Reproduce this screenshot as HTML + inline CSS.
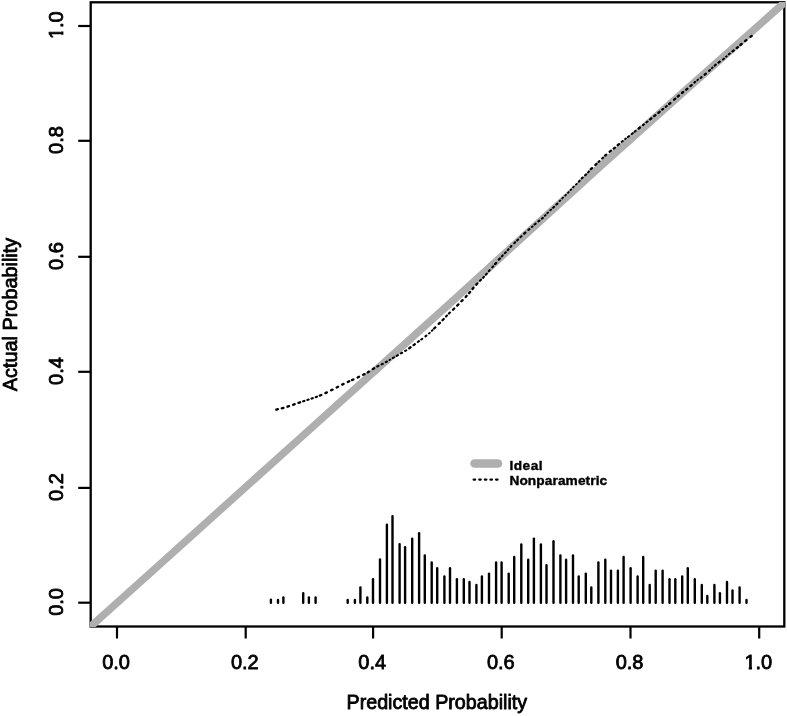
<!DOCTYPE html>
<html lang="en">
<head>
<meta charset="utf-8">
<title>Calibration plot</title>
<style>
html,body{margin:0;padding:0;background:#fff;}
body{width:787px;height:716px;overflow:hidden;}
svg{display:block;}
text{font-family:"Liberation Sans",Arial,Helvetica,sans-serif;fill:#000;stroke:#000;stroke-width:0.8px;stroke-linejoin:round;}
.ax{font-size:20px;}
.lg{font-size:13.7px;font-weight:bold;stroke-width:0.4px;}
.ti{font-size:19.7px;}
</style>
</head>
<body>
<svg width="787" height="716" viewBox="0 0 787 716">
<rect x="0" y="0" width="787" height="716" fill="#fff"/>
<defs><clipPath id="plot"><rect x="90.0" y="2.0" width="695.2" height="625.0"/></clipPath></defs>
<rect x="90.7" y="2.3" width="693.6" height="624.2" fill="none" stroke="#000" stroke-width="2.3"/>
<line x1="117.0" y1="626.5" x2="117.0" y2="638.5" stroke="#000" stroke-width="2.2"/>
<line x1="90.7" y1="602.7" x2="78.2" y2="602.7" stroke="#000" stroke-width="2.2"/>
<line x1="245.7" y1="626.5" x2="245.7" y2="638.5" stroke="#000" stroke-width="2.2"/>
<line x1="90.7" y1="487.9" x2="78.2" y2="487.9" stroke="#000" stroke-width="2.2"/>
<line x1="373.1" y1="626.5" x2="373.1" y2="638.5" stroke="#000" stroke-width="2.2"/>
<line x1="90.7" y1="371.8" x2="78.2" y2="371.8" stroke="#000" stroke-width="2.2"/>
<line x1="501.7" y1="626.5" x2="501.7" y2="638.5" stroke="#000" stroke-width="2.2"/>
<line x1="90.7" y1="256.8" x2="78.2" y2="256.8" stroke="#000" stroke-width="2.2"/>
<line x1="630.5" y1="626.5" x2="630.5" y2="638.5" stroke="#000" stroke-width="2.2"/>
<line x1="90.7" y1="140.8" x2="78.2" y2="140.8" stroke="#000" stroke-width="2.2"/>
<line x1="759.2" y1="626.5" x2="759.2" y2="638.5" stroke="#000" stroke-width="2.2"/>
<line x1="90.7" y1="26.0" x2="78.2" y2="26.0" stroke="#000" stroke-width="2.2"/>
<g transform="translate(116.1,669.4)"><text class="ax" text-anchor="middle">0.0</text></g>
<g transform="translate(63.4,601.9) rotate(-90)"><text class="ax" text-anchor="middle">0.0</text></g>
<g transform="translate(244.8,669.4)"><text class="ax" text-anchor="middle">0.2</text></g>
<g transform="translate(63.4,487.1) rotate(-90)"><text class="ax" text-anchor="middle">0.2</text></g>
<g transform="translate(372.2,669.4)"><text class="ax" text-anchor="middle">0.4</text></g>
<g transform="translate(63.4,371.0) rotate(-90)"><text class="ax" text-anchor="middle">0.4</text></g>
<g transform="translate(500.8,669.4)"><text class="ax" text-anchor="middle">0.6</text></g>
<g transform="translate(63.4,256.0) rotate(-90)"><text class="ax" text-anchor="middle">0.6</text></g>
<g transform="translate(629.6,669.4)"><text class="ax" text-anchor="middle">0.8</text></g>
<g transform="translate(63.4,140.0) rotate(-90)"><text class="ax" text-anchor="middle">0.8</text></g>
<g transform="translate(758.3,669.4)"><text class="ax" text-anchor="middle">1.0</text><rect x="-14.6" y="-3.4" width="5.05" height="4.4" fill="#fff"/><rect x="-6.25" y="-3.4" width="3.7" height="4.4" fill="#fff"/></g>
<g transform="translate(63.4,25.2) rotate(-90)"><text class="ax" text-anchor="middle">1.0</text><rect x="-14.6" y="-3.4" width="5.05" height="4.4" fill="#fff"/><rect x="-6.25" y="-3.4" width="3.7" height="4.4" fill="#fff"/></g>
<text class="ti" x="436.8" y="709.1" text-anchor="middle">Predicted Probability</text>
<text class="ti" style="font-size:19.85px" transform="translate(16.5,314.5) rotate(-90)" text-anchor="middle">Actual Probability</text>
<g clip-path="url(#plot)"><polyline points="60.0,654.09 165.0,559.70 300.0,438.21 450.0,303.36 530.0,230.52 600.0,166.66 680.0,95.12 764.0,20.69 810.0,-20.22" fill="none" stroke="#afafaf" stroke-width="7.5" stroke-linejoin="round"/></g>
<path d="M389.4 360.0L390.2 359.5M428.9 333.5L429.7 332.9M431.8 330.8L432.6 330.1M531.8 227.0L532.6 226.4M544.8 215.8L545.6 215.1M547.3 213.2L548.1 212.5M550.3 210.3L551.1 209.6M559.6 201.2L560.3 200.5M562.3 198.4L563.0 197.7M565.2 195.6L565.9 194.9M568.0 192.8L568.7 192.1M570.6 190.1L571.2 189.4M573.1 187.4L573.7 186.7M575.9 184.6L576.7 183.9M625.1 139.1L625.9 138.5M697.3 80.2L698.1 79.6M711.9 68.2L712.6 67.5M726.0 56.8L726.8 56.2" fill="none" stroke="#000" stroke-width="1.85" stroke-linecap="round"/>
<path d="M303.2 401.3L304.4 400.9M307.4 399.9L308.6 399.6M311.6 398.6L312.8 398.2M315.7 397.2L317.0 396.7M377.3 366.5L378.5 365.9M381.6 364.4L382.8 363.8M385.8 362.1L387.0 361.5M392.9 358.0L394.1 357.4M396.7 355.9L397.9 355.2M400.9 353.4L402.1 352.8M405.2 350.9L406.2 350.3M417.8 342.0L418.9 341.2M421.2 339.5L422.2 338.8M425.4 336.4L426.4 335.6M446.0 316.6L447.0 315.6M448.9 313.6L449.9 312.6M480.0 280.8L481.0 279.8M483.1 277.8L483.9 276.8M486.0 274.6L486.8 273.6M488.9 271.2L489.7 270.2M492.3 267.3L493.1 266.3M501.9 256.3L502.7 255.3M504.8 253.2L505.8 252.3M507.8 250.2L508.6 249.2M510.5 247.0L511.4 246.1M514.3 243.2L515.2 242.3M517.2 240.5L518.1 239.6M520.4 237.2L521.4 236.3M528.4 230.0L529.4 229.1M534.6 224.5L535.6 223.7M538.4 221.4L539.4 220.6M541.8 218.7L542.8 217.9M553.1 207.7L554.1 206.8M556.4 204.5L557.4 203.6M578.9 181.6L579.7 180.6M581.7 178.4L582.7 177.5M585.1 175.3L586.1 174.4M588.1 172.4L588.9 171.4M598.5 162.0L599.5 161.1M602.2 158.5L603.2 157.6M621.7 141.8L622.7 141.0M627.9 137.0L628.9 136.2M631.7 134.0L632.7 133.2M634.6 131.7L635.6 130.9M643.0 125.1L644.0 124.3M646.4 122.3L647.4 121.5M662.1 109.7L663.2 108.9M665.7 106.8L666.8 106.0M694.3 82.6L695.3 81.8M700.6 77.8L701.6 77.1M709.0 70.9L710.0 70.0M714.7 65.6L715.7 64.7M722.9 59.5L723.9 58.7M728.8 54.3L729.8 53.5" fill="none" stroke="#000" stroke-width="2.10" stroke-linecap="round"/>
<path d="M276.3 409.6L277.9 409.2M281.8 408.3L283.4 407.9M287.5 406.7L289.1 406.2M293.1 404.8L294.7 404.2M298.5 402.8L300.1 402.3M319.8 395.6L321.3 395.0M325.4 393.1L326.9 392.4M331.1 390.3L332.5 389.6M336.7 387.5L338.1 386.7M342.2 384.6L343.6 383.9M347.8 382.0L349.2 381.3M352.0 380.1L353.4 379.5M357.6 377.5L359.0 376.8M363.1 374.8L364.6 374.1M367.6 372.4L369.0 371.6M372.9 369.1L374.2 368.3M409.2 348.3L410.6 347.3M413.5 345.1L414.8 344.2M434.1 328.5L435.3 327.4M438.7 323.9L439.9 322.8M442.5 320.2L443.7 319.0M453.0 309.7L454.2 308.5M457.2 305.6L458.4 304.4M461.4 301.3L462.6 300.1M465.7 297.0L466.7 295.8M469.0 293.2L470.1 291.9M472.5 289.0L473.5 287.7M476.3 284.7L477.3 283.5M495.1 264.1L496.1 262.9M498.9 259.6L499.9 258.4M524.1 233.7L525.3 232.6M590.8 169.2L592.0 168.1M595.4 164.9L596.6 163.8M605.1 155.7L606.3 154.7M609.7 151.7L611.0 150.7M613.7 148.6L615.0 147.6M617.7 145.2L619.0 144.1M638.7 128.5L639.9 127.5M650.1 119.3L651.3 118.3M654.2 116.1L655.4 115.2M658.4 112.9L659.6 111.8M669.2 104.0L670.4 103.0M674.1 99.7L675.3 98.7M677.8 96.5L679.0 95.5M682.0 93.0L683.2 92.0M686.2 89.7L687.4 88.7M690.4 86.1L691.6 85.1M704.7 74.7L705.9 73.7M718.5 62.6L719.8 61.6M732.5 51.4L733.7 50.5M736.7 48.1L737.9 47.1M740.4 45.0L741.6 44.0M745.1 41.1L746.3 40.1M750.5 36.9L751.7 35.9" fill="none" stroke="#000" stroke-width="2.30" stroke-linecap="round"/>
<line x1="270.9" y1="602.8" x2="270.9" y2="599.7" stroke="#000" stroke-width="2.4" stroke-linecap="round"/>
<line x1="278.0" y1="602.8" x2="278.0" y2="600.0" stroke="#000" stroke-width="2.4" stroke-linecap="round"/>
<line x1="283.4" y1="602.8" x2="283.4" y2="597.4" stroke="#000" stroke-width="2.4" stroke-linecap="round"/>
<line x1="303.2" y1="602.8" x2="303.2" y2="593.3" stroke="#000" stroke-width="2.4" stroke-linecap="round"/>
<line x1="308.9" y1="602.8" x2="308.9" y2="597.4" stroke="#000" stroke-width="2.4" stroke-linecap="round"/>
<line x1="315.6" y1="602.8" x2="315.6" y2="597.4" stroke="#000" stroke-width="2.4" stroke-linecap="round"/>
<line x1="347.7" y1="602.8" x2="347.7" y2="600.0" stroke="#000" stroke-width="2.4" stroke-linecap="round"/>
<line x1="354.9" y1="602.8" x2="354.9" y2="600.0" stroke="#000" stroke-width="2.4" stroke-linecap="round"/>
<line x1="360.4" y1="602.8" x2="360.4" y2="587.4" stroke="#000" stroke-width="2.4" stroke-linecap="round"/>
<line x1="367.3" y1="602.8" x2="367.3" y2="597.4" stroke="#000" stroke-width="2.4" stroke-linecap="round"/>
<line x1="373.0" y1="602.8" x2="373.0" y2="579.3" stroke="#000" stroke-width="2.4" stroke-linecap="round"/>
<line x1="380.0" y1="602.8" x2="380.0" y2="559.5" stroke="#000" stroke-width="2.4" stroke-linecap="round"/>
<line x1="386.9" y1="602.8" x2="386.9" y2="524.7" stroke="#000" stroke-width="2.4" stroke-linecap="round"/>
<line x1="392.5" y1="602.8" x2="392.5" y2="516.1" stroke="#000" stroke-width="2.4" stroke-linecap="round"/>
<line x1="399.6" y1="602.8" x2="399.6" y2="544.1" stroke="#000" stroke-width="2.4" stroke-linecap="round"/>
<line x1="405.1" y1="602.8" x2="405.1" y2="547.2" stroke="#000" stroke-width="2.4" stroke-linecap="round"/>
<line x1="412.2" y1="602.8" x2="412.2" y2="538.6" stroke="#000" stroke-width="2.4" stroke-linecap="round"/>
<line x1="419.1" y1="602.8" x2="419.1" y2="533.2" stroke="#000" stroke-width="2.4" stroke-linecap="round"/>
<line x1="424.8" y1="602.8" x2="424.8" y2="555.5" stroke="#000" stroke-width="2.4" stroke-linecap="round"/>
<line x1="431.7" y1="602.8" x2="431.7" y2="562.5" stroke="#000" stroke-width="2.4" stroke-linecap="round"/>
<line x1="437.2" y1="602.8" x2="437.2" y2="568.2" stroke="#000" stroke-width="2.4" stroke-linecap="round"/>
<line x1="444.4" y1="602.8" x2="444.4" y2="576.4" stroke="#000" stroke-width="2.4" stroke-linecap="round"/>
<line x1="450.0" y1="602.8" x2="450.0" y2="568.2" stroke="#000" stroke-width="2.4" stroke-linecap="round"/>
<line x1="456.9" y1="602.8" x2="456.9" y2="579.3" stroke="#000" stroke-width="2.4" stroke-linecap="round"/>
<line x1="463.8" y1="602.8" x2="463.8" y2="579.3" stroke="#000" stroke-width="2.4" stroke-linecap="round"/>
<line x1="469.5" y1="602.8" x2="469.5" y2="582.0" stroke="#000" stroke-width="2.4" stroke-linecap="round"/>
<line x1="476.4" y1="602.8" x2="476.4" y2="585.0" stroke="#000" stroke-width="2.4" stroke-linecap="round"/>
<line x1="481.9" y1="602.8" x2="481.9" y2="576.4" stroke="#000" stroke-width="2.4" stroke-linecap="round"/>
<line x1="489.0" y1="602.8" x2="489.0" y2="573.6" stroke="#000" stroke-width="2.4" stroke-linecap="round"/>
<line x1="496.1" y1="602.8" x2="496.1" y2="562.5" stroke="#000" stroke-width="2.4" stroke-linecap="round"/>
<line x1="501.6" y1="602.8" x2="501.6" y2="562.5" stroke="#000" stroke-width="2.4" stroke-linecap="round"/>
<line x1="508.7" y1="602.8" x2="508.7" y2="573.6" stroke="#000" stroke-width="2.4" stroke-linecap="round"/>
<line x1="514.2" y1="602.8" x2="514.2" y2="557.0" stroke="#000" stroke-width="2.4" stroke-linecap="round"/>
<line x1="521.3" y1="602.8" x2="521.3" y2="544.4" stroke="#000" stroke-width="2.4" stroke-linecap="round"/>
<line x1="528.2" y1="602.8" x2="528.2" y2="559.8" stroke="#000" stroke-width="2.4" stroke-linecap="round"/>
<line x1="533.9" y1="602.8" x2="533.9" y2="538.6" stroke="#000" stroke-width="2.4" stroke-linecap="round"/>
<line x1="540.9" y1="602.8" x2="540.9" y2="544.4" stroke="#000" stroke-width="2.4" stroke-linecap="round"/>
<line x1="546.5" y1="602.8" x2="546.5" y2="565.1" stroke="#000" stroke-width="2.4" stroke-linecap="round"/>
<line x1="553.5" y1="602.8" x2="553.5" y2="541.3" stroke="#000" stroke-width="2.4" stroke-linecap="round"/>
<line x1="560.4" y1="602.8" x2="560.4" y2="555.5" stroke="#000" stroke-width="2.4" stroke-linecap="round"/>
<line x1="566.1" y1="602.8" x2="566.1" y2="559.8" stroke="#000" stroke-width="2.4" stroke-linecap="round"/>
<line x1="573.0" y1="602.8" x2="573.0" y2="555.5" stroke="#000" stroke-width="2.4" stroke-linecap="round"/>
<line x1="578.7" y1="602.8" x2="578.7" y2="576.4" stroke="#000" stroke-width="2.4" stroke-linecap="round"/>
<line x1="585.8" y1="602.8" x2="585.8" y2="573.6" stroke="#000" stroke-width="2.4" stroke-linecap="round"/>
<line x1="591.3" y1="602.8" x2="591.3" y2="587.4" stroke="#000" stroke-width="2.4" stroke-linecap="round"/>
<line x1="598.4" y1="602.8" x2="598.4" y2="562.5" stroke="#000" stroke-width="2.4" stroke-linecap="round"/>
<line x1="605.3" y1="602.8" x2="605.3" y2="559.8" stroke="#000" stroke-width="2.4" stroke-linecap="round"/>
<line x1="611.0" y1="602.8" x2="611.0" y2="570.8" stroke="#000" stroke-width="2.4" stroke-linecap="round"/>
<line x1="617.9" y1="602.8" x2="617.9" y2="570.8" stroke="#000" stroke-width="2.4" stroke-linecap="round"/>
<line x1="623.6" y1="602.8" x2="623.6" y2="557.0" stroke="#000" stroke-width="2.4" stroke-linecap="round"/>
<line x1="630.6" y1="602.8" x2="630.6" y2="568.2" stroke="#000" stroke-width="2.4" stroke-linecap="round"/>
<line x1="637.6" y1="602.8" x2="637.6" y2="576.4" stroke="#000" stroke-width="2.4" stroke-linecap="round"/>
<line x1="643.2" y1="602.8" x2="643.2" y2="557.0" stroke="#000" stroke-width="2.4" stroke-linecap="round"/>
<line x1="649.7" y1="602.8" x2="649.7" y2="585.0" stroke="#000" stroke-width="2.4" stroke-linecap="round"/>
<line x1="655.7" y1="602.8" x2="655.7" y2="570.8" stroke="#000" stroke-width="2.4" stroke-linecap="round"/>
<line x1="662.6" y1="602.8" x2="662.6" y2="570.8" stroke="#000" stroke-width="2.4" stroke-linecap="round"/>
<line x1="669.5" y1="602.8" x2="669.5" y2="579.3" stroke="#000" stroke-width="2.4" stroke-linecap="round"/>
<line x1="675.3" y1="602.8" x2="675.3" y2="579.3" stroke="#000" stroke-width="2.4" stroke-linecap="round"/>
<line x1="682.2" y1="602.8" x2="682.2" y2="576.4" stroke="#000" stroke-width="2.4" stroke-linecap="round"/>
<line x1="687.8" y1="602.8" x2="687.8" y2="568.2" stroke="#000" stroke-width="2.4" stroke-linecap="round"/>
<line x1="694.8" y1="602.8" x2="694.8" y2="579.3" stroke="#000" stroke-width="2.4" stroke-linecap="round"/>
<line x1="701.8" y1="602.8" x2="701.8" y2="585.0" stroke="#000" stroke-width="2.4" stroke-linecap="round"/>
<line x1="707.3" y1="602.8" x2="707.3" y2="595.9" stroke="#000" stroke-width="2.4" stroke-linecap="round"/>
<line x1="714.4" y1="602.8" x2="714.4" y2="585.0" stroke="#000" stroke-width="2.4" stroke-linecap="round"/>
<line x1="719.9" y1="602.8" x2="719.9" y2="593.3" stroke="#000" stroke-width="2.4" stroke-linecap="round"/>
<line x1="727.0" y1="602.8" x2="727.0" y2="582.0" stroke="#000" stroke-width="2.4" stroke-linecap="round"/>
<line x1="732.5" y1="602.8" x2="732.5" y2="590.5" stroke="#000" stroke-width="2.4" stroke-linecap="round"/>
<line x1="739.6" y1="602.8" x2="739.6" y2="587.4" stroke="#000" stroke-width="2.4" stroke-linecap="round"/>
<line x1="746.5" y1="602.8" x2="746.5" y2="600.0" stroke="#000" stroke-width="2.4" stroke-linecap="round"/>
<line x1="474.5" y1="463.5" x2="498" y2="463.5" stroke="#afafaf" stroke-width="8.5" stroke-linecap="round"/>
<line x1="473.6" y1="479.6" x2="499" y2="479.6" stroke="#000" stroke-width="2.1" stroke-linecap="round" stroke-dasharray="1.6 4"/>
<text class="lg" x="509.4" y="470.4" letter-spacing="0.5">Ideal</text>
<text class="lg" x="509.4" y="485.2" letter-spacing="0.1">Nonparametric</text>
</svg>
</body>
</html>
